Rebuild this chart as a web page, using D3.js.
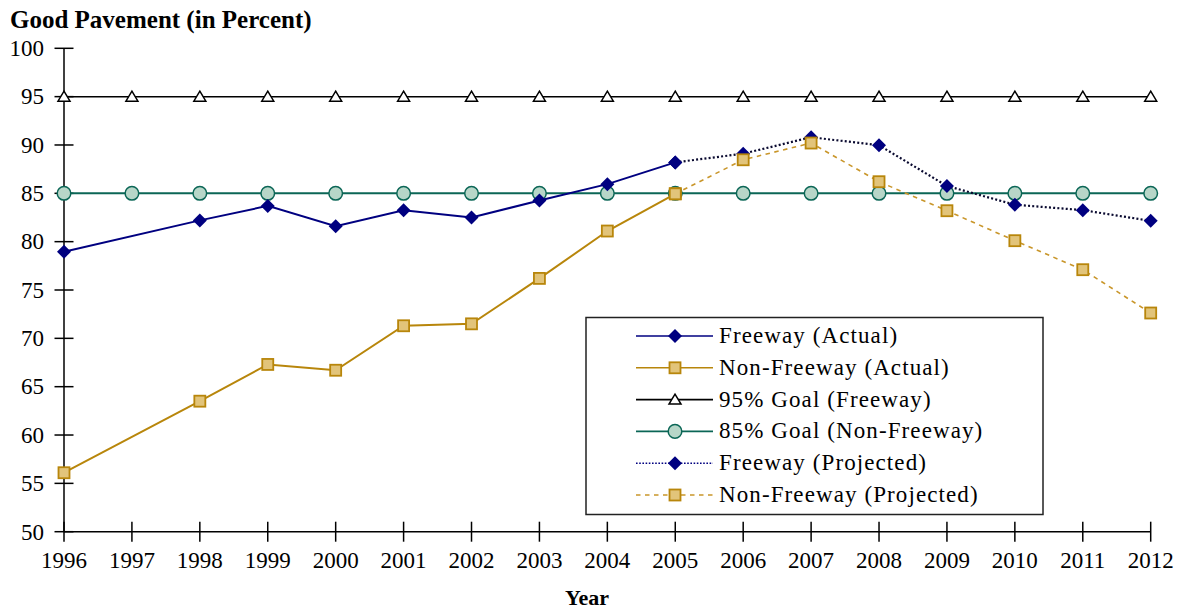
<!DOCTYPE html>
<html><head><meta charset="utf-8">
<script src="https://cdn.jsdelivr.net/npm/d3@7"></script>
<style>
html,body{margin:0;padding:0;background:#fff;}
svg text{font-family:"Liberation Serif","DejaVu Serif",serif;fill:#000;}
</style></head>
<body>
<svg id="chart" width="1178" height="611"></svg>
<script>
const years = [1996,1997,1998,1999,2000,2001,2002,2003,2004,2005,2006,2007,2008,2009,2010,2011,2012];
const yTicks = [50,55,60,65,70,75,80,85,90,95,100];
const freewayActualYears = [1996,1998,1999,2000,2001,2002,2003,2004,2005];
const freewayActual = [78.96,82.2,83.7,81.6,83.25,82.5,84.25,85.95,88.2];
const nonFreewayActualYears = [1996,1998,1999,2000,2001,2002,2003,2004,2005];
const nonFreewayActual = [56.1,63.5,67.3,66.7,71.3,71.5,76.2,81.1,84.95];
const projYears = [2005,2006,2007,2008,2009,2010,2011,2012];
const freewayProjected = [88.2,89.1,90.8,89.97,85.76,83.82,83.26,82.15];
const nonFreewayProjected = [84.95,88.47,90.2,86.2,83.2,80.1,77.1,72.62];
const goal95 = years.map(() => 95);
const goal85 = years.map(() => 85);
const legendLabels = ["Freeway (Actual)","Non-Freeway (Actual)","95% Goal (Freeway)","85% Goal (Non-Freeway)","Freeway (Projected)","Non-Freeway (Projected)"];

const svg = d3.select("#chart");
const x = d3.scaleLinear().domain([1996,2012]).range([64,1150.7]);
const y = d3.scaleLinear().domain([50,100]).range([531.7,48.3]);

// title
svg.append("text").attr("x",10).attr("y",28).attr("font-size",25).attr("font-weight","bold").text("Good Pavement (in Percent)");
svg.append("text").attr("x",587).attr("y",605).attr("font-size",22).attr("font-weight","bold").attr("text-anchor","middle").text("Year");

// axes
const ax = svg.append("g").attr("stroke","#000").attr("stroke-width",1.5);
ax.append("line").attr("x1",x(1996)).attr("x2",x(1996)).attr("y1",y(100)).attr("y2",y(50));
ax.append("line").attr("x1",x(1996)).attr("x2",x(2012)).attr("y1",y(50)).attr("y2",y(50));
yTicks.forEach(t=>{
  ax.append("line").attr("x1",x(1996)-9.5).attr("x2",x(1996)+9.5).attr("y1",y(t)).attr("y2",y(t));
});
years.forEach(t=>{
  ax.append("line").attr("x1",x(t)).attr("x2",x(t)).attr("y1",y(50)-10).attr("y2",y(50)+10);
});
const tl = svg.append("g").attr("font-size",23);
yTicks.forEach(t=>{
  tl.append("text").attr("x",44).attr("y",y(t)+7.8).attr("text-anchor","end").text(t);
});
years.forEach(t=>{
  tl.append("text").attr("x",x(t)).attr("y",568).attr("text-anchor","middle").text(t);
});

const diamond = "M0,-7L7,0L0,7L-7,0Z";
const tri = "M0,-5.5L6,4.5L-6,4.5Z";
const styles = {
  fa:{line:"#000080",w:2,dash:null,marker:"diamond",fill:"#000080",stroke:"#000080"},
  na:{line:"#b8860b",w:2,dash:null,marker:"square",fill:"#e2c47a",stroke:"#b8860b"},
  g95:{line:"#000",w:1.5,dash:null,marker:"tri",fill:"#fff",stroke:"#000"},
  g85:{line:"#0b6656",w:2,dash:null,marker:"circle",fill:"#b7d6c8",stroke:"#0b6656"},
  fp:{line:"#0a0a30",w:2.2,dash:"2,2.2",marker:"diamond",fill:"#000080",stroke:"#000080"},
  np:{line:"#c9962a",w:1.6,dash:"4.5,4.5",marker:"square",fill:"#e2c47a",stroke:"#b8860b"}
};
function marker(g, kind, st, cx, cy){
  if(kind==="diamond") g.append("path").attr("d",diamond).attr("transform",`translate(${cx},${cy})`).attr("fill",st.fill);
  else if(kind==="square") g.append("rect").attr("x",cx-5.5).attr("y",cy-5.5).attr("width",11).attr("height",11).attr("fill",st.fill).attr("stroke",st.stroke).attr("stroke-width",1.8);
  else if(kind==="tri") g.append("path").attr("d",tri).attr("transform",`translate(${cx},${cy})`).attr("fill",st.fill).attr("stroke",st.stroke).attr("stroke-width",1.5);
  else if(kind==="circle") g.append("circle").attr("cx",cx).attr("cy",cy).attr("r",6.8).attr("fill",st.fill).attr("stroke",st.stroke).attr("stroke-width",1.5);
}
const line = d3.line().x(d=>x(d[0])).y(d=>y(d[1]));
function series(xs, vs, st){
  const data = xs.map((v,i)=>[v,vs[i]]);
  const g = svg.append("g");
  g.append("path").attr("d",line(data)).attr("fill","none").attr("stroke",st.line).attr("stroke-width",st.w).attr("stroke-dasharray",st.dash);
  data.forEach(d=>marker(g, st.marker, st, x(d[0]), y(d[1])));
}
series(years, goal95, styles.g95);
series(years, goal85, styles.g85);
series(freewayActualYears, freewayActual, styles.fa);
series(nonFreewayActualYears, nonFreewayActual, styles.na);
series(projYears, freewayProjected, styles.fp);
series(projYears, nonFreewayProjected, styles.np);

// legend
const lg = svg.append("g");
lg.append("rect").attr("x",586).attr("y",317.5).attr("width",457).attr("height",197).attr("fill","#fff").attr("stroke","#222").attr("stroke-width",1.5);
const keys = ["fa","na","g95","g85","fp","np"];
keys.forEach((k,i)=>{
  const cy = 336 + i*31.8;
  const st = Object.assign({}, styles[k]);
  if(k==="fp"){ st.line="#000080"; st.w=1.6; st.dash="1.6,1.6"; }
  lg.append("line").attr("x1",636).attr("x2",713).attr("y1",cy).attr("y2",cy).attr("stroke",st.line).attr("stroke-width",1.6).attr("stroke-dasharray",st.dash);
  marker(lg, st.marker, st, 675, cy);
  lg.append("text").attr("x",719).attr("y",cy+7).attr("font-size",23).attr("letter-spacing","1.1px").text(legendLabels[i]);
});
</script>
</body></html>
